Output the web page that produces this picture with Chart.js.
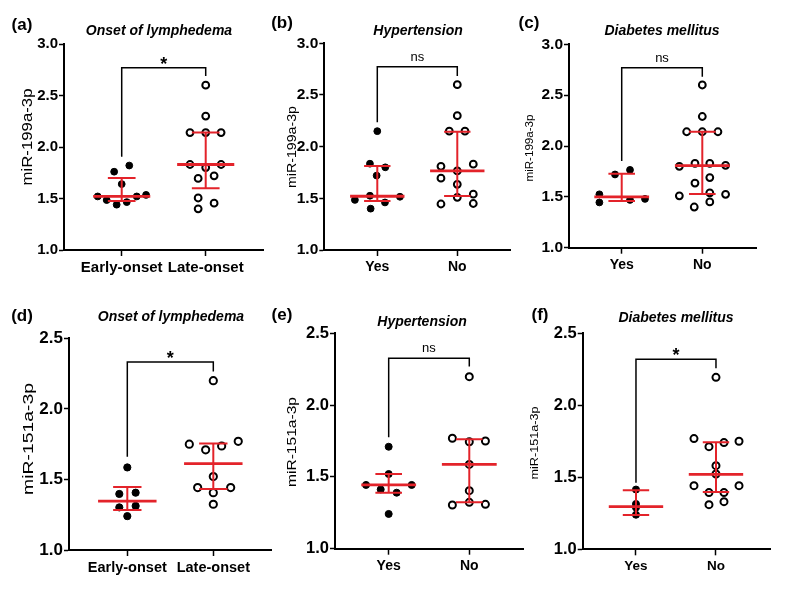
<!DOCTYPE html>
<html><head><meta charset="utf-8">
<script src="https://cdn.jsdelivr.net/npm/chart.js@4.4.1/dist/chart.umd.min.js"></script>
<style>
html,body{margin:0;padding:0;background:#fff;}
#wrap{position:relative;width:790px;height:604px;overflow:hidden;background:#fff;}
canvas{position:absolute;left:0;top:0;}
</style></head><body><div id="wrap">
<canvas id="cA" width="790" height="604"></canvas>
<canvas id="cB" width="790" height="604"></canvas>
<canvas id="cC" width="790" height="604"></canvas>
<canvas id="cD" width="790" height="604"></canvas>
<canvas id="cE" width="790" height="604"></canvas>
<canvas id="cF" width="790" height="604"></canvas>
</div>
<script>
// ---------- categories ----------
const catsOnset = ['Early-onset', 'Late-onset'];
const catsYesNo = ['Yes', 'No'];
const ticksTop = [1.0, 1.5, 2.0, 2.5, 3.0];
const ticksBottom = [1.0, 1.5, 2.0, 2.5];

// ---------- (a) miR-199a-3p, onset of lymphedema ----------
const A0 = [1.52, 1.485, 1.44, 1.465, 1.52, 1.535, 1.76, 1.64, 1.82];
const A0j = [-0.286, -0.179, -0.06, 0.06, 0.179, 0.29, -0.09, 0, 0.09];
const A1 = [2.60, 2.30, 2.14, 2.14, 2.14, 1.83, 1.83, 1.80, 1.72, 1.695, 1.505, 1.455, 1.40];
const A1j = [0, 0, -0.187, 0, 0.183, -0.187, 0.183, 0, 0.1, -0.09, -0.09, 0.1, -0.09];
const A_med = [1.52, 1.83], A_lo = [1.476, 1.60], A_hi = [1.70, 2.14];
const A_br = [1.906, 2.77, 2.69];

// ---------- (b) miR-199a-3p, hypertension ----------
const B0 = [2.15, 1.835, 1.80, 1.72, 1.485, 1.525, 1.46, 1.515, 1.40];
const B0j = [0, -0.092, 0.1, -0.008, -0.28, -0.092, 0.096, 0.283, -0.083];
const B1 = [2.60, 2.30, 2.15, 2.15, 1.81, 1.83, 1.765, 1.695, 1.635, 1.445, 1.51, 1.54, 1.45];
const B1j = [0, 0, -0.1, 0.096, -0.204, 0.2, 0, -0.204, 0, -0.204, 0, 0.2, 0.2];
const B_med = [1.52, 1.765], B_lo = [1.475, 1.523], B_hi = [1.813, 2.145];
const B_br = [2.235, 2.774, 2.684];

// ---------- (c) miR-199a-3p, diabetes mellitus ----------
const C0 = [1.525, 1.445, 1.72, 1.765, 1.47, 1.48];
const C0j = [-0.277, -0.277, -0.083, 0.103, 0.103, 0.289];
const C1 = [2.60, 2.29, 2.14, 2.14, 2.14, 1.80, 1.83, 1.83, 1.81, 1.69, 1.635, 1.51, 1.54, 1.525, 1.45, 1.40];
const C1j = [0, 0, -0.194, 0, 0.194, -0.285, -0.091, 0.093, 0.289, 0.093, -0.091, -0.285, 0.093, 0.289, 0.093, -0.1];
const C_med = [1.50, 1.807], C_lo = [1.46, 1.528], C_hi = [1.728, 2.141];
const C_br = [1.852, 2.77, 2.682];

// ---------- (d) miR-151a-3p, onset of lymphedema ----------
const D0 = [1.585, 1.397, 1.406, 1.302, 1.312, 1.24];
const D0j = [0, -0.093, 0.097, -0.093, 0.097, 0];
const D1 = [2.20, 1.75, 1.71, 1.737, 1.77, 1.52, 1.442, 1.442, 1.406, 1.324];
const D1j = [0, -0.279, -0.089, 0.097, 0.29, 0, -0.182, 0.202, 0, 0];
const D_med = [1.347, 1.612], D_lo = [1.283, 1.432], D_hi = [1.446, 1.754];
const D_br = [1.661, 2.332, 2.264];

// ---------- (e) miR-151a-3p, hypertension ----------
const E0 = [1.71, 1.52, 1.444, 1.413, 1.39, 1.444, 1.242];
const E0j = [0, 0, -0.281, -0.099, 0.099, 0.285, 0];
const E1 = [2.198, 1.769, 1.745, 1.75, 1.587, 1.404, 1.304, 1.323, 1.309];
const E1j = [0, -0.21, 0, 0.2, 0, 0, -0.21, 0, 0.2];
const E_med = [1.444, 1.587], E_lo = [1.39, 1.323], E_hi = [1.52, 1.762];
const E_br = [1.776, 2.326, 2.268];

// ---------- (f) miR-151a-3p, diabetes mellitus ----------
const F0 = [1.415, 1.315, 1.29, 1.24];
const F0j = [0, 0, 0, 0];
const F1 = [2.194, 1.769, 1.713, 1.741, 1.75, 1.581, 1.523, 1.442, 1.442, 1.394, 1.394, 1.31, 1.331];
const F1j = [0, -0.275, -0.0875, 0.1, 0.288, 0, 0, -0.275, 0.288, -0.0875, 0.1, -0.0875, 0.1];
const F_med = [1.296, 1.521], F_lo = [1.238, 1.398], F_hi = [1.41, 1.743];
const F_br = [1.463, 2.319, 2.257];

// ---------- layout / style ----------
const RED = '#e3232a';
const FONT = "'Liberation Sans', Arial, Helvetica, sans-serif";
const MW = 0.34, WW = 0.165;

// yt: [centerX, centerY, fontSize, targetLength]
const PANELS = [
  {id:'cA', label:'(a)', title:'Onset of lymphedema', ytitle:'miR-199a-3p', cats:catsOnset, ticks:ticksTop,
   g0:A0, j0:A0j, g1:A1, j1:A1j, med:A_med, lo:A_lo, hi:A_hi, br:A_br, sig:'*',
   area:{l:64, t:44, r:263, b:250}, xr:[-0.687, 1.682],
   lab:[22, 25], tit:[159, 31], yt:[28.5, 137, 14, 97], tickF:15, catF:15, rad:3.4},
  {id:'cB', label:'(b)', title:'Hypertension', ytitle:'miR-199a-3p', cats:catsYesNo, ticks:ticksTop,
   g0:B0, j0:B0j, g1:B1, j1:B1j, med:B_med, lo:B_lo, hi:B_hi, br:B_br, sig:'ns',
   area:{l:324.3, t:43.3, r:510, b:250}, xr:[-0.6625, 1.659],
   lab:[282, 23], tit:[418, 31], yt:[292.5, 147, 13, 82], tickF:15.5, catF:14, rad:3.4},
  {id:'cC', label:'(c)', title:'Diabetes mellitus', ytitle:'miR-199a-3p', cats:catsYesNo, ticks:ticksTop,
   g0:C0, j0:C0j, g1:C1, j1:C1j, med:C_med, lo:C_lo, hi:C_hi, br:C_br, sig:'ns',
   area:{l:569, t:44.3, r:756.7, b:247.7}, xr:[-0.654, 1.675],
   lab:[529, 23], tit:[662, 31], yt:[529.5, 148, 11, 67], tickF:15.5, catF:14, rad:3.4},
  {id:'cD', label:'(d)', title:'Onset of lymphedema', ytitle:'miR-151a-3p', cats:catsOnset, ticks:ticksBottom,
   g0:D0, j0:D0j, g1:D1, j1:D1j, med:D_med, lo:D_lo, hi:D_hi, br:D_br, sig:'*',
   area:{l:69, t:338.3, r:271.7, b:550}, xr:[-0.678, 1.679],
   lab:[22, 316], tit:[171, 317], yt:[29, 439, 14, 112], tickF:17, catF:14.5, rad:3.6},
  {id:'cE', label:'(e)', title:'Hypertension', ytitle:'miR-151a-3p', cats:catsYesNo, ticks:ticksBottom,
   g0:E0, j0:E0j, g1:E1, j1:E1j, med:E_med, lo:E_lo, hi:E_hi, br:E_br, sig:'ns',
   area:{l:335, t:333.3, r:523.3, b:548.7}, xr:[-0.666, 1.67],
   lab:[282, 315], tit:[422, 322], yt:[292.5, 442, 13, 90], tickF:16.5, catF:14, rad:3.5},
  {id:'cF', label:'(f)', title:'Diabetes mellitus', ytitle:'miR-151a-3p', cats:catsYesNo, ticks:ticksBottom,
   g0:F0, j0:F0j, g1:F1, j1:F1j, med:F_med, lo:F_lo, hi:F_hi, br:F_br, sig:'*',
   area:{l:582.7, t:333.3, r:770.7, b:549.3}, xr:[-0.666, 1.684],
   lab:[540, 315], tit:[676, 318], yt:[535, 443, 11.5, 73], tickF:16.5, catF:13.5, rad:3.5}
];

function pts(vals, jit, g) { return vals.map((v, i) => ({x: g + jit[i], y: v})); }
function medSegs(med) {
  const out = [];
  for (let g = 0; g < 2; g++) out.push({x: g - MW, y: med[g]}, {x: g + MW, y: med[g]}, {x: g, y: null});
  return out;
}
function errSegs(lo, hi) {
  const out = [];
  for (let g = 0; g < 2; g++) {
    out.push({x: g - WW, y: hi[g]}, {x: g + WW, y: hi[g]}, {x: g, y: null},
             {x: g - WW, y: lo[g]}, {x: g + WW, y: lo[g]}, {x: g, y: null},
             {x: g, y: lo[g]}, {x: g, y: hi[g]}, {x: g, y: null});
  }
  return out;
}
function bracket(br) { return [{x: 0, y: br[0]}, {x: 0, y: br[1]}, {x: 1, y: br[1]}, {x: 1, y: br[2]}]; }

const YW = 50, XH = 40;

const textPlugin = {
  id: 'panelText',
  afterDraw(chart) {
    const p = chart.config.options.plugins.panelText;
    const ctx = chart.ctx;
    ctx.save();
    ctx.fillStyle = '#000';
    ctx.textAlign = 'center';
    ctx.textBaseline = 'middle';
    ctx.font = 'bold 17px ' + FONT;
    ctx.fillText(p.label, p.lab[0], p.lab[1]);
    ctx.font = 'italic bold 14px ' + FONT;
    ctx.fillText(p.title, p.tit[0], p.tit[1]);
    ctx.save();
    ctx.translate(p.yt[0], p.yt[1]);
    ctx.rotate(-Math.PI / 2);
    ctx.font = p.yt[2] + 'px ' + FONT;
    const w = ctx.measureText(p.ytitle).width;
    ctx.scale(p.yt[3] / w, 1);
    ctx.fillText(p.ytitle, 0, 0);
    ctx.restore();
    const xs = chart.scales.x, ys = chart.scales.y;
    const sx = xs.getPixelForValue(0.5), sy = ys.getPixelForValue(p.br[1]);
    ctx.textBaseline = 'alphabetic';
    if (p.sig === '*') {
      ctx.font = 'bold 18px ' + FONT;
      ctx.fillText('*', sx, sy + 2);
    } else {
      ctx.font = '13px ' + FONT;
      ctx.fillText(p.sig, sx, sy - 6);
    }
    ctx.restore();
  }
};

PANELS.forEach(p => {
  const a = p.area;
  new Chart(document.getElementById(p.id), {
    type: 'scatter',
    data: {
      datasets: [
        {data: medSegs(p.med), showLine: true, borderColor: RED, borderWidth: 2.8, pointRadius: 0, spanGaps: false, order: 0},
        {data: errSegs(p.lo, p.hi), showLine: true, borderColor: RED, borderWidth: 2, pointRadius: 0, spanGaps: false, order: 1},
        {data: pts(p.g0, p.j0, 0), backgroundColor: '#000', borderColor: '#000', borderWidth: 1, pointRadius: p.rad, order: 2},
        {data: pts(p.g1, p.j1, 1), backgroundColor: '#fff', borderColor: '#000', borderWidth: 2, pointRadius: p.rad, order: 3},
        {data: bracket(p.br), showLine: true, borderColor: '#000', borderWidth: 1.5, pointRadius: 0, order: 4}
      ]
    },
    options: {
      responsive: false,
      animation: false,
      events: [],
      layout: {padding: {left: a.l - YW, top: a.t, right: 790 - a.r, bottom: 604 - a.b - XH}},
      plugins: {legend: {display: false}, tooltip: {enabled: false}, panelText: p},
      scales: {
        x: {
          type: 'linear', min: p.xr[0], max: p.xr[1],
          afterBuildTicks: s => { s.ticks = [{value: 0}, {value: 1}]; },
          afterFit: s => { s.height = XH; },
          ticks: {autoSkip: false, maxRotation: 0, color: '#000', padding: 3,
                  font: {family: FONT, size: p.catF, weight: 'bold'},
                  callback: v => p.cats[v]},
          grid: {display: true, drawOnChartArea: false, drawTicks: true, tickLength: 6, tickColor: '#000', tickWidth: 1.5},
          border: {display: true, color: '#000', width: 2}
        },
        y: {
          type: 'linear', min: p.ticks[0], max: p.ticks[p.ticks.length - 1],
          afterBuildTicks: s => { s.ticks = p.ticks.map(v => ({value: v})); },
          afterFit: s => { s.width = YW; },
          ticks: {color: '#000', padding: 1, font: {family: FONT, size: p.tickF, weight: 'bold'},
                  callback: v => Number(v).toFixed(1)},
          grid: {display: true, drawOnChartArea: false, drawTicks: true, tickLength: 5, tickColor: '#000', tickWidth: 1.5},
          border: {display: true, color: '#000', width: 2}
        }
      }
    },
    plugins: [textPlugin]
  });
});
</script>
</body></html>
